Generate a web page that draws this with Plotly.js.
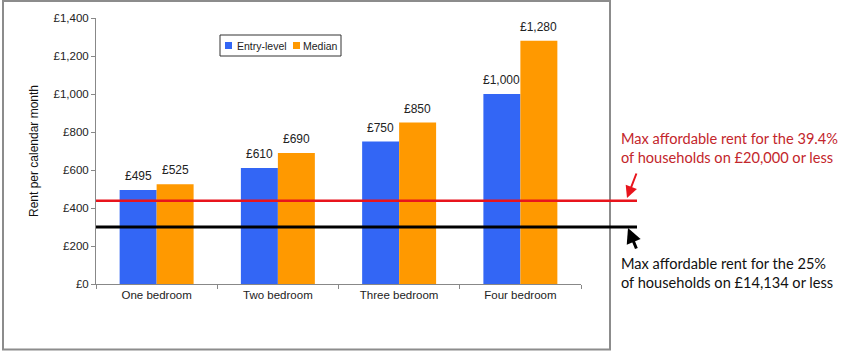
<!DOCTYPE html>
<html>
<head>
<meta charset="utf-8">
<script src="https://cdn.plot.ly/plotly-3.0.1.min.js"></script>
<style>html,body{margin:0;padding:0;background:#fff;}#chart{width:850px;height:352px;}</style>
</head>
<body>
<div id="chart"></div>
<script>
var categories = ["One bedroom", "Two bedroom", "Three bedroom", "Four bedroom"];
var entryLevel = [495, 610, 750, 1000];
var median = [525, 690, 850, 1280];
var seriesNames = ["Entry-level", "Median"];
var seriesColors = ["#3366f5", "#ff9900"];
var affordable39 = 438;
var affordable25 = 300;
var label39 = "Max affordable rent for the 39.4%<br>of households on £20,000 or less";
var label25 = "Max affordable rent for the 25%<br>of households on £14,134 or less";

var fam = "Liberation Sans, Arial, sans-serif";
var axisFont = {family: fam, size: 11.5, color: "#222"};

function money(v) { return "£" + v.toLocaleString("en-GB"); }

var traces = [
  {type: "bar", name: seriesNames[0], x: categories, y: entryLevel, marker: {color: seriesColors[0]}},
  {type: "bar", name: seriesNames[1], x: categories, y: median, marker: {color: seriesColors[1]}}
];

// data labels above bars (half-bar offsets inside each group)
var annotations = [];
var halfBar = 18.5;
[entryLevel, median].forEach(function(arr, si) {
  arr.forEach(function(v, i) {
    annotations.push({xref: "x", yref: "y", x: categories[i], y: v, text: money(v), showarrow: false,
      xshift: si === 0 ? -halfBar : halfBar, yshift: 14, yanchor: "middle", xanchor: "center",
      font: {family: fam, size: 12, color: "#222"}});
  });
});

// custom legend (close spacing like the original)
var legX = [225, 293], legTextX = [235, 301];
var px2x = function(p) { return (p - 96) / 485; };
var py2y = function(p) { return (284 - p) / 266; };
seriesNames.forEach(function(n, i) {
  annotations.push({xref: "paper", yref: "paper", x: px2x(legTextX[i]), y: py2y(45.5), text: n, showarrow: false,
    xanchor: "left", yanchor: "middle", font: {family: fam, size: 10.5, color: "#222"}});
});

annotations.push(
  {xref: "paper", yref: "paper", x: px2x(619), y: py2y(148), xanchor: "left", yanchor: "middle",
   text: label39, showarrow: false, align: "left",
   font: {family: "Lato, Open Sans, sans-serif", size: 14.6, color: "#c3262c"}},
  {xref: "paper", yref: "paper", x: px2x(619), y: py2y(273), xanchor: "left", yanchor: "middle",
   text: label25, showarrow: false, align: "left",
   font: {family: "Lato, Open Sans, sans-serif", size: 14.6, color: "#111"}},
  {xref: "paper", yref: "paper", x: px2x(627), y: py2y(198), text: "", showarrow: true,
   ax: 10, ay: -26, arrowhead: 2, arrowsize: 1.2, arrowwidth: 2, arrowcolor: "#e8141c"},
  {xref: "paper", yref: "paper", x: px2x(628), y: py2y(228), text: "", showarrow: true,
   ax: 9, ay: 22, arrowhead: 2, arrowsize: 1, arrowwidth: 3, arrowcolor: "#000"}
);

var shapes = [
  {type: "rect", xref: "paper", yref: "paper", x0: px2x(3), x1: px2x(610), y0: py2y(349.5), y1: py2y(1),
   line: {color: "#8c8c8c", width: 2}, fillcolor: "rgba(0,0,0,0)", layer: "below"},
  {type: "rect", xref: "paper", yref: "paper", x0: px2x(220), x1: px2x(341), y0: py2y(56), y1: py2y(35),
   line: {color: "#333", width: 1}, fillcolor: "#fff", layer: "above"}
];
legX.forEach(function(p, i) {
  shapes.push({type: "rect", xref: "paper", yref: "paper", x0: px2x(p), x1: px2x(p + 7), y0: py2y(49), y1: py2y(42),
    line: {width: 0}, fillcolor: seriesColors[i], layer: "above"});
});
shapes.push(
  {type: "line", xref: "paper", yref: "y", x0: 0, x1: px2x(637), y0: affordable39, y1: affordable39,
   line: {color: "#e8141c", width: 2.5}},
  {type: "line", xref: "paper", yref: "y", x0: 0, x1: px2x(637), y0: affordable25, y1: affordable25,
   line: {color: "#000", width: 3}}
);

var layout = {
  width: 850, height: 352,
  margin: {l: 96, r: 269, t: 18, b: 68},
  paper_bgcolor: "#fff", plot_bgcolor: "#fff",
  barmode: "group", bargap: 0.39, bargroupgap: 0,
  showlegend: false,
  xaxis: {type: "category", showgrid: false, zeroline: false, showline: true, linecolor: "#888", linewidth: 1,
          ticks: "outside", tickson: "boundaries", ticklen: 4, tickcolor: "#888",
          tickfont: axisFont, fixedrange: true},
  yaxis: {range: [0, 1400], dtick: 200, tickprefix: "£", tickformat: ",d", showgrid: false, zeroline: false,
          showline: true, linecolor: "#888", linewidth: 1, ticks: "outside", ticklen: 4, tickcolor: "#888",
          tickfont: axisFont,
          title: {text: "Rent per calendar month", font: {family: fam, size: 12, color: "#111"}, standoff: 12}},
  shapes: shapes,
  annotations: annotations
};

Plotly.newPlot("chart", traces, layout, {staticPlot: true});
</script>
</body>
</html>
